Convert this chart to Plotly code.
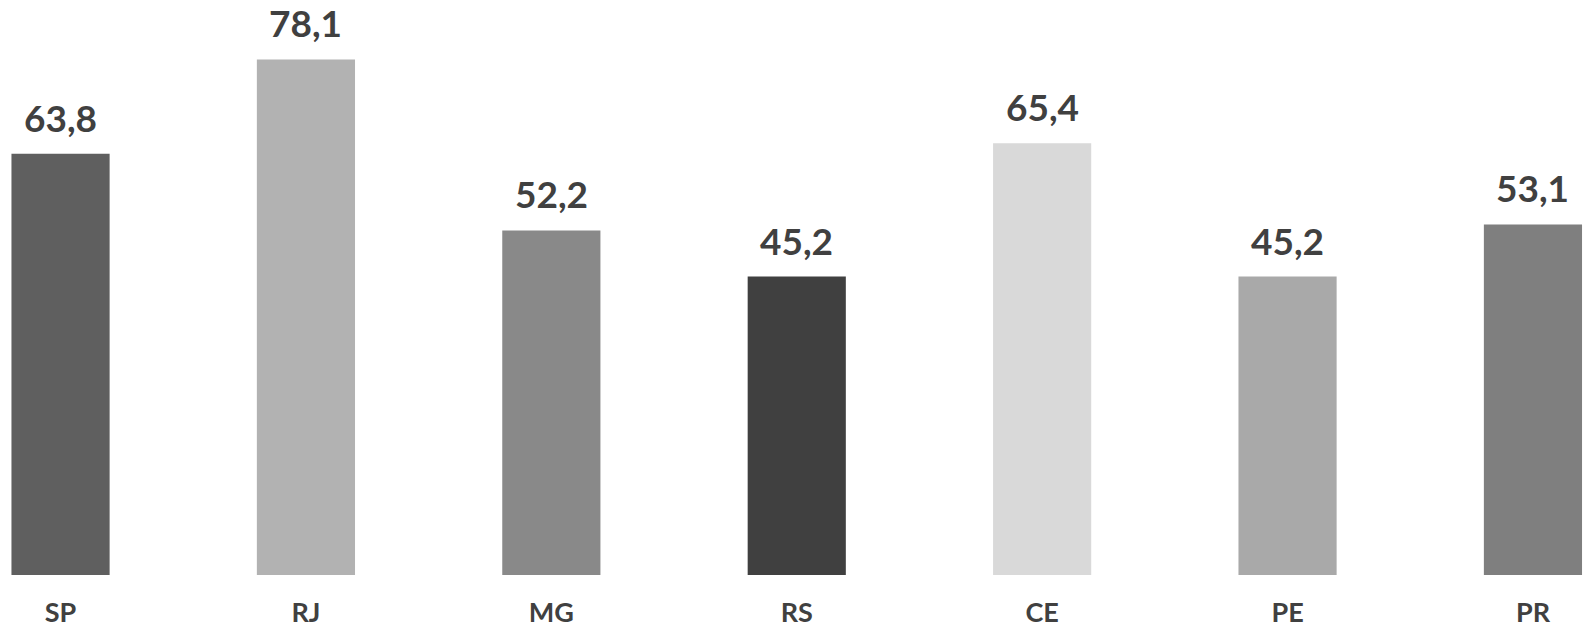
import plotly.graph_objects as go

categories = ["SP", "RJ", "MG", "RS", "CE", "PE", "PR"]
values = [63.8, 78.1, 52.2, 45.2, 65.4, 45.2, 53.1]
colors = ["#5f5f5f", "#b2b2b2", "#898989", "#404040", "#d9d9d9", "#a9a9a9", "#7f7f7f"]

FONT = "Lato"
TXT = "#404040"

fig = go.Figure(go.Bar(
    x=categories, y=values, marker=dict(color=colors, line=dict(width=0)),
    width=0.4, showlegend=False, hoverinfo="skip",
))

for c, v in zip(categories, values):
    fig.add_annotation(
        x=c, y=v, text=f"{v:.1f}".replace(".", ","), showarrow=False,
        yanchor="bottom", yshift=12,
        font=dict(family=FONT, size=37, color=TXT, weight="bold"),
    )

fig.update_layout(
    width=1597, height=634,
    margin=dict(l=0, r=0, t=0, b=59),
    plot_bgcolor="white", paper_bgcolor="white",
    bargap=0.6,
    xaxis=dict(range=[-0.2467, 6.261], showgrid=False, zeroline=False, showline=False,
               tickfont=dict(family=FONT, size=27, color=TXT, weight="bold"),
               ticks="", ticklabelstandoff=19),
    yaxis=dict(range=[0, 87.1], visible=False),
)

fig.write_html("out.html", config={"displayModeBar": False},
               post_script="document.body.style.margin='0';document.body.style.overflow='hidden';")
